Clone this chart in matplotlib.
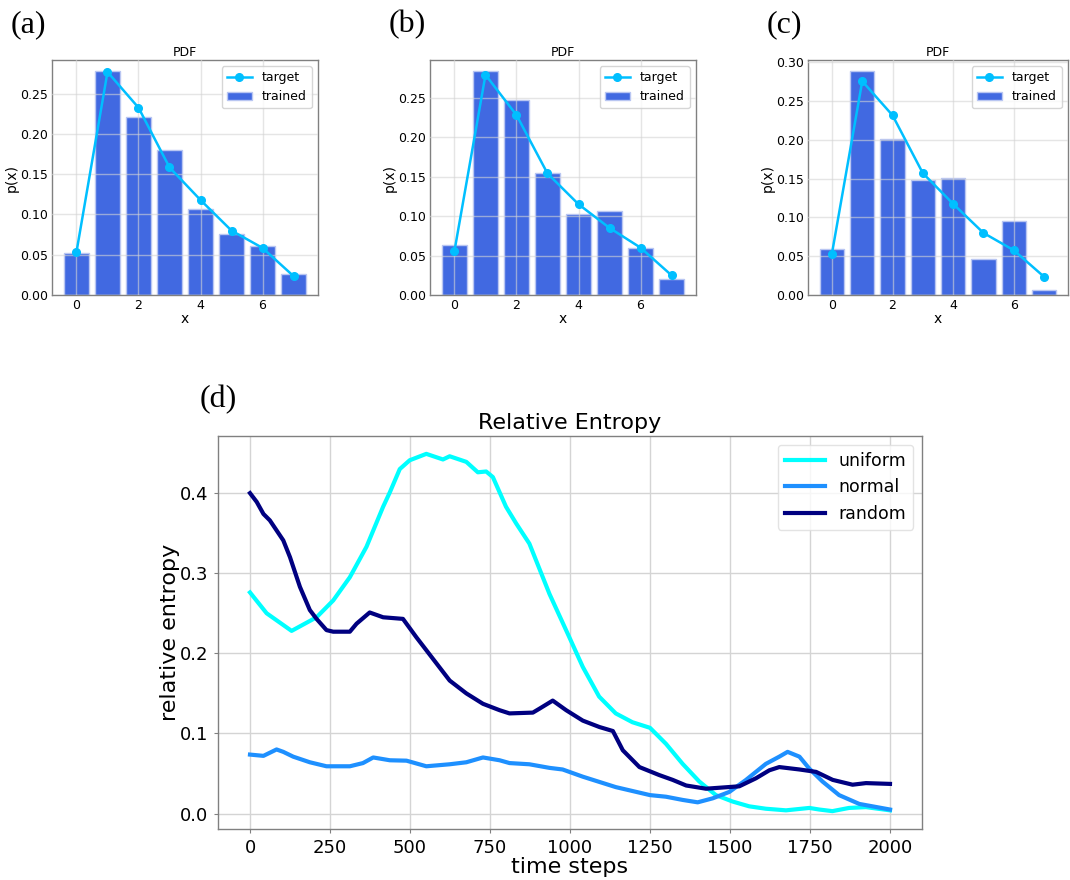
import numpy as np
import matplotlib
matplotlib.use("Agg")
import matplotlib.pyplot as plt

# ---------------- data ----------------
x_bins = [0, 1, 2, 3, 4, 5, 6, 7]

target_a = [0.0535, 0.277, 0.2327, 0.1585, 0.118, 0.080, 0.0585, 0.0235]
trained_a = [0.0523, 0.278, 0.2216, 0.180, 0.107, 0.076, 0.061, 0.0255]

target_b = [0.056, 0.279, 0.228, 0.154, 0.115, 0.085, 0.060, 0.025]
trained_b = [0.0639, 0.2836, 0.2466, 0.155, 0.103, 0.106, 0.060, 0.020]

target_c = [0.0534, 0.2756, 0.2316, 0.157, 0.1175, 0.080, 0.0577, 0.0235]
trained_c = [0.0598, 0.2885, 0.2009, 0.1487, 0.1513, 0.0466, 0.0957, 0.006]

uniform_t = [0, 52, 130, 208, 260, 312, 364, 416, 437, 468, 499, 551, 603, 624,
             676, 712, 738, 759, 800, 832, 873, 936, 998, 1040, 1091, 1143, 1195,
             1250, 1300, 1352, 1404, 1456, 1508, 1560, 1612, 1675, 1748, 1779,
             1820, 1872, 1925, 2000]
uniform_v = [0.276, 0.250, 0.228, 0.245, 0.266, 0.295, 0.333, 0.383, 0.401, 0.430,
             0.441, 0.449, 0.442, 0.446, 0.439, 0.426, 0.427, 0.420, 0.383, 0.362,
             0.337, 0.274, 0.220, 0.183, 0.146, 0.125, 0.114, 0.107, 0.087, 0.062,
             0.040, 0.023, 0.015, 0.009, 0.006, 0.004, 0.007, 0.005, 0.003, 0.007,
             0.008, 0.004]

normal_t = [0, 42, 83, 104, 135, 187, 239, 312, 353, 385, 437, 489, 551, 624, 676,
            728, 780, 811, 873, 936, 977, 1040, 1143, 1250, 1300, 1352, 1399, 1446,
            1498, 1550, 1612, 1654, 1680, 1717, 1748, 1789, 1841, 1904, 2000]
normal_v = [0.0736, 0.072, 0.080, 0.077, 0.071, 0.064, 0.059, 0.059, 0.063, 0.070,
            0.0665, 0.066, 0.059, 0.0615, 0.064, 0.070, 0.0665, 0.063, 0.0615, 0.057,
            0.055, 0.046, 0.033, 0.023, 0.021, 0.017, 0.014, 0.019, 0.027, 0.042,
            0.062, 0.071, 0.077, 0.071, 0.056, 0.040, 0.023, 0.012, 0.005]

random_t = [0, 21, 42, 62, 104, 125, 156, 187, 208, 239, 260, 312, 333, 374, 416,
            478, 520, 572, 624, 676, 728, 780, 811, 884, 905, 946, 988, 1040, 1092,
            1134, 1165, 1217, 1279, 1321, 1363, 1425, 1529, 1581, 1623, 1654, 1717,
            1769, 1821, 1883, 1925, 2000]
random_v = [0.400, 0.389, 0.374, 0.366, 0.341, 0.320, 0.283, 0.254, 0.243, 0.229,
            0.227, 0.227, 0.237, 0.251, 0.245, 0.243, 0.220, 0.193, 0.166, 0.150,
            0.137, 0.129, 0.125, 0.126, 0.131, 0.141, 0.129, 0.116, 0.108, 0.103,
            0.079, 0.058, 0.048, 0.042, 0.035, 0.031, 0.034, 0.044, 0.054, 0.058,
            0.055, 0.052, 0.042, 0.036, 0.038, 0.037]

# ---------------- figure ----------------
plt.rcParams['font.family'] = ['DejaVu Sans']
fig = plt.figure(figsize=(10.7, 8.8), dpi=100)

GRID = '#d4d4d4'
SPINE = '#808080'


def style_axes(ax, ts, length, pad):
    for s in ax.spines.values():
        s.set_color(SPINE)
        s.set_linewidth(1.0)
    ax.tick_params(colors='black', labelsize=ts, length=length, pad=pad, color=SPINE)
    ax.grid(True, color=GRID, linewidth=1.0)


def pdf_panel(rect, target, trained, letter, lx):
    ax = fig.add_axes(rect)
    ax.bar(x_bins, trained, width=0.8, color='#4169E1', edgecolor='#b9c6f2',
           linewidth=1.0, label='trained', zorder=2)
    ax.plot(x_bins, target, '-o', color='#00BFFF', lw=1.8, ms=5.5,
            label='target', zorder=3)
    style_axes(ax, 9, 0, 3)
    ax.set_axisbelow(False)
    for gl in ax.get_xgridlines() + ax.get_ygridlines():
        gl.set_alpha(0.6)
        gl.set_zorder(2.5)
    ax.set_title('PDF', fontsize=9, pad=3)
    ax.set_xlabel('x', fontsize=10, labelpad=0)
    ax.set_ylabel('p(x)', fontsize=10, labelpad=1)
    ax.set_xticks([0, 2, 4, 6])
    ax.legend(loc='upper right', fontsize=9, frameon=True, fancybox=True,
              framealpha=0.8, edgecolor='#cccccc', borderaxespad=0.5,
              handlelength=2.0)
    fig.text(lx, 1 - 25 / 880, letter, fontsize=23, family='Liberation Serif',
             ha='left', va='center')
    return ax


pdf_panel([52 / 1070, 1 - 295 / 880, 266 / 1070, 235 / 880], target_a, trained_a, '(a)', 11 / 1070)
pdf_panel([430 / 1070, 1 - 295 / 880, 266 / 1070, 235 / 880], target_b, trained_b, '(b)', 389 / 1070)
pdf_panel([808 / 1070, 1 - 295 / 880, 260 / 1070, 235 / 880], target_c, trained_c, '(c)', 767 / 1070)

# ---------------- relative entropy ----------------
ax = fig.add_axes([218 / 1070, 1 - 829 / 880, 704 / 1070, 393 / 880])
ax.plot(uniform_t, uniform_v, color='#00FFFF', lw=3, label='uniform')
ax.plot(normal_t, normal_v, color='#1E90FF', lw=3, label='normal')
ax.plot(random_t, random_v, color='#000080', lw=3, label='random')
style_axes(ax, 13, 3, 4)
ax.set_xticks([0, 250, 500, 750, 1000, 1250, 1500, 1750, 2000])
ax.set_yticks([0.0, 0.1, 0.2, 0.3, 0.4])
ax.set_title('Relative Entropy', fontsize=16, pad=5)
ax.set_xlabel('time steps', fontsize=16, labelpad=0)
ax.set_ylabel('relative entropy', fontsize=16, labelpad=0)
ax.legend(loc='upper right', fontsize=12.5, frameon=True, fancybox=True,
          framealpha=0.8, edgecolor='#dddddd', handlelength=2.3)
fig.text(200 / 1070, 1 - 400 / 880, '(d)', fontsize=23, family='Liberation Serif',
         ha='left', va='center')

fig.savefig('out.png', dpi=100)
